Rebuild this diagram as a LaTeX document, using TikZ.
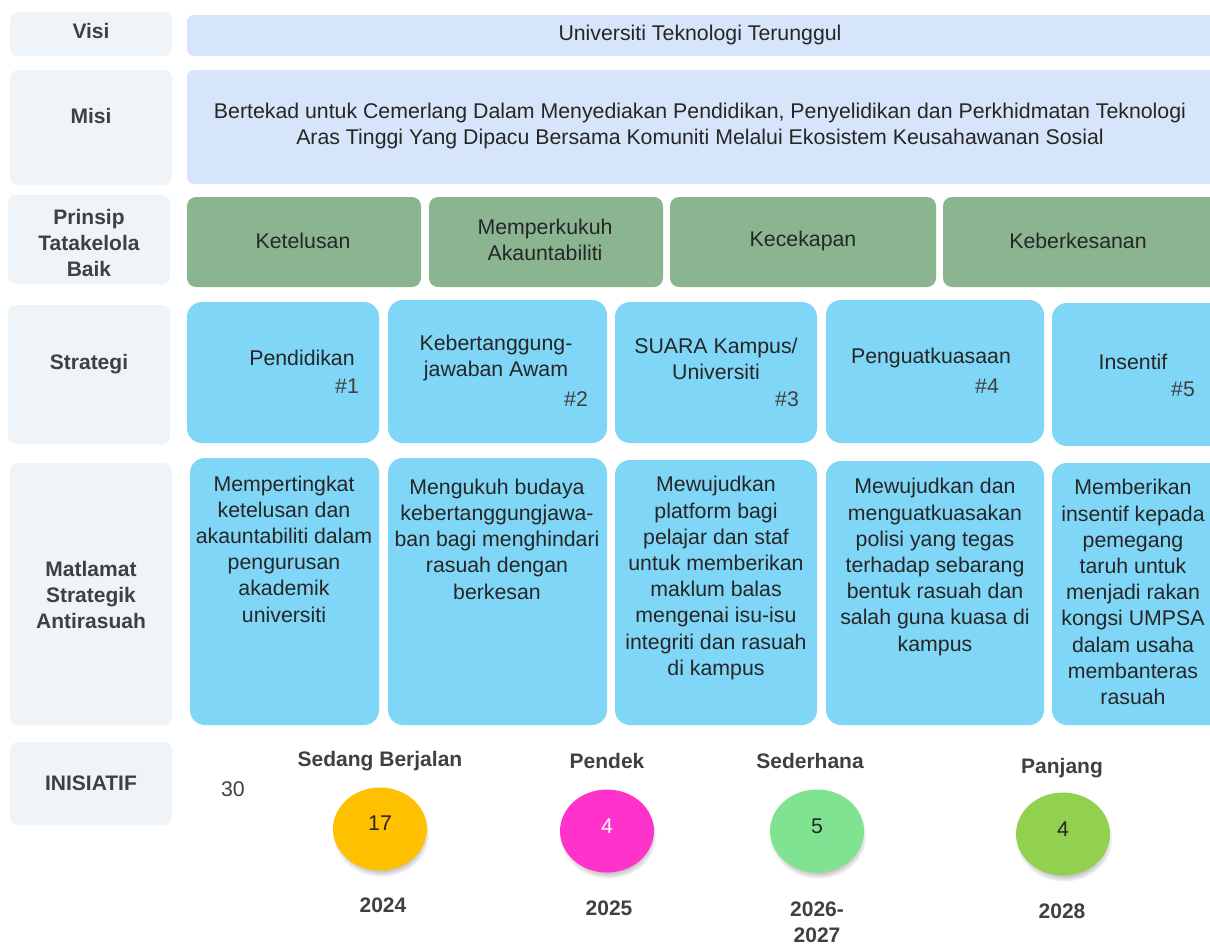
\documentclass[tikz,border=0pt]{standalone}
\usepackage{fontspec}
\setmainfont{Liberation Sans}
\usetikzlibrary{shapes.geometric,shadows}
\definecolor{labbg}{HTML}{EFF4F8}
\definecolor{visbg}{HTML}{D6E5FA}
\definecolor{grn}{HTML}{8BB590}
\definecolor{blu}{HTML}{80D6F7}
\definecolor{labtxt}{HTML}{404040}
\definecolor{bodytxt}{HTML}{262626}
\definecolor{corange}{HTML}{FFC000}
\definecolor{cmag}{HTML}{FF33CC}
\definecolor{clgreen}{HTML}{7FE392}
\definecolor{cgreen}{HTML}{92D050}
\begin{document}
\begin{tikzpicture}[x=1pt,y=-1pt,
  base/.style={anchor=north west, inner sep=0pt, outer sep=0pt},
  labbox/.style={base, fill=labbg, rounded corners=8pt},
  visbox/.style={base, fill=visbg, rounded corners=7pt},
  grnbox/.style={base, fill=grn, rounded corners=9pt},
  blubox/.style={base, fill=blu, rounded corners=15pt},
  lbl/.style={font=\fontsize{21}{26}\selectfont\bfseries, text=labtxt, align=center, inner sep=0pt},
  body/.style={font=\fontsize{21.3}{26.2}\selectfont, text=bodytxt, align=center, inner sep=0pt},
  num/.style={font=\fontsize{21.3}{26}\selectfont, text=labtxt, inner sep=0pt},
  bubble/.style={ellipse, minimum width=94pt, minimum height=83pt, inner sep=0pt,
    circular drop shadow={shadow xshift=1pt, shadow yshift=-5pt, shadow scale=1.03, opacity=0.45}},
]
\useasboundingbox (0,0) rectangle (1210,945);
\clip (0,0) rectangle (1210,945);
\fill[white] (0,0) rectangle (1210,945);

% ---------- left labels ----------
\node[labbox, minimum width=162pt, minimum height=44pt] (Lvisi) at (10,12) {};
\node[labbox, minimum width=162pt, minimum height=115pt] (Lmisi) at (10,70) {};
\node[labbox, minimum width=162pt, minimum height=89pt] (Lprin) at (8,195) {};
\node[labbox, minimum width=162pt, minimum height=139pt] (Lstrat) at (8,305) {};
\node[labbox, minimum width=162pt, minimum height=262pt] (Lmat) at (10,463) {};
\node[labbox, minimum width=162pt, minimum height=83pt] (Linis) at (10,742) {};

\node[lbl] (tvisi) at (91,31) {Visi};
\node[lbl] (tmisi) at (91,116) {Misi};
\node[lbl] (tprin) at (89,243) {Prinsip\\Tatakelola\\Baik};
\node[lbl] (tstrat) at (89,364) {Strategi};
\node[lbl] (tmat) at (91,595) {Matlamat\\Strategik\\Antirasuah};
\node[lbl] (tinis) at (91,783) {INISIATIF};

% ---------- Visi / Misi ----------
\node[visbox, minimum width=1040pt, minimum height=41pt] (visi) at (187,15) {};
\node[body] (tvisic) at (700,35) {Universiti Teknologi Terunggul};
\node[visbox, minimum width=1040pt, minimum height=114pt] (misi) at (187,70) {};
\node[body] (tmisic) at (700,126) {Bertekad untuk Cemerlang Dalam Menyediakan Pendidikan, Penyelidikan dan Perkhidmatan Teknologi\\Aras Tinggi Yang Dipacu Bersama Komuniti Melalui Ekosistem Keusahawanan Sosial};

% ---------- Prinsip ----------
\node[grnbox, minimum width=234pt, minimum height=90pt] (g1) at (187,197) {};
\node[grnbox, minimum width=234pt, minimum height=90pt] (g2) at (429,197) {};
\node[grnbox, minimum width=266pt, minimum height=90pt] (g3) at (670,197) {};
\node[grnbox, minimum width=290pt, minimum height=90pt] (g4) at (943,197) {};
\node[body] (tg1) at (303,241) {Ketelusan};
\node[body] (tg2) at (545,240) {Memperkukuh\\Akauntabiliti};
\node[body] (tg3) at (803,241) {Kecekapan};
\node[body] (tg4) at (1078,241) {Keberkesanan};

% ---------- Strategi ----------
\node[blubox, minimum width=192pt, minimum height=141pt] (s1) at (187,302) {};
\node[blubox, minimum width=219pt, minimum height=143pt] (s2) at (388,300) {};
\node[blubox, minimum width=202pt, minimum height=141pt] (s3) at (615,302) {};
\node[blubox, minimum width=218pt, minimum height=143pt] (s4) at (826,300) {};
\node[blubox, minimum width=190pt, minimum height=143pt] (s5) at (1052,303) {};

\node[body] (ts1) at (302,358) {Pendidikan};
\node[num] (n1) at (347,386) {\#1};
\node[body] (ts2) at (496,358) {Kebertanggung-\\jawaban Awam};
\node[num] (n2) at (576,399) {\#2};
\node[body] (ts3) at (716,359) {SUARA Kampus/\\Universiti};
\node[num] (n3) at (787,399) {\#3};
\node[body] (ts4) at (931,358) {Penguatkuasaan};
\node[num] (n4) at (987,386) {\#4};
\node[body] (ts5) at (1133,362) {Insentif};
\node[num] (n5) at (1183,389) {\#5};

% ---------- Matlamat ----------
\node[blubox, minimum width=189pt, minimum height=267pt] (m1) at (190,458) {};
\node[blubox, minimum width=219pt, minimum height=267pt] (m2) at (388,458) {};
\node[blubox, minimum width=202pt, minimum height=265pt] (m3) at (615,460) {};
\node[blubox, minimum width=218pt, minimum height=264pt] (m4) at (826,461) {};
\node[blubox, minimum width=190pt, minimum height=262pt] (m5) at (1052,463) {};

\node[body] (tm1) at (284,549) {Mempertingkat\\ketelusan dan\\akauntabiliti dalam\\pengurusan\\akademik\\universiti};
\node[body] (tm2) at (497,539) {Mengukuh budaya\\kebertanggungjawa-\\ban bagi menghindari\\rasuah dengan\\berkesan};
\node[body] (tm3) at (716,578) {Mewujudkan\\platform bagi\\pelajar dan staf\\untuk memberikan\\maklum balas\\mengenai isu-isu\\integriti dan rasuah\\di kampus};
\node[body] (tm4) at (935,567) {Mewujudkan dan\\menguatkuasakan\\polisi yang tegas\\terhadap sebarang\\bentuk rasuah dan\\salah guna kuasa di\\kampus};
\node[body] (tm5) at (1133,592) {Memberikan\\insentif kepada\\pemegang\\taruh untuk\\menjadi rakan\\kongsi UMPSA\\dalam usaha\\membanteras\\rasuah};

% ---------- Inisiatif ----------
\node[num] (t30) at (233,789) {30};

\node[lbl] (h1) at (380,761) {Sedang Berjalan};
\node[bubble, fill=corange] (c1) at (380,829) {};
\node[num, text=bodytxt] (v1) at (380,823) {17};
\node[lbl] (y1) at (383,905) {2024};

\node[lbl] (h2) at (607,761) {Pendek};
\node[bubble, fill=cmag] (c2) at (607,831) {};
\node[num, text=white] (v2) at (607,826) {4};
\node[lbl] (y2) at (609,908) {2025};

\node[lbl] (h3) at (810,761) {Sederhana};
\node[bubble, fill=clgreen] (c3) at (817,831) {};
\node[num, text=bodytxt] (v3) at (817,826) {5};
\node[lbl] (y3) at (817,922) {2026-\\2027};

\node[lbl] (h4) at (1062,768) {Panjang};
\node[bubble, fill=cgreen] (c4) at (1063,834) {};
\node[num, text=bodytxt] (v4) at (1063,829) {4};
\node[lbl] (y4) at (1062,911) {2028};
\end{tikzpicture}
\end{document}
